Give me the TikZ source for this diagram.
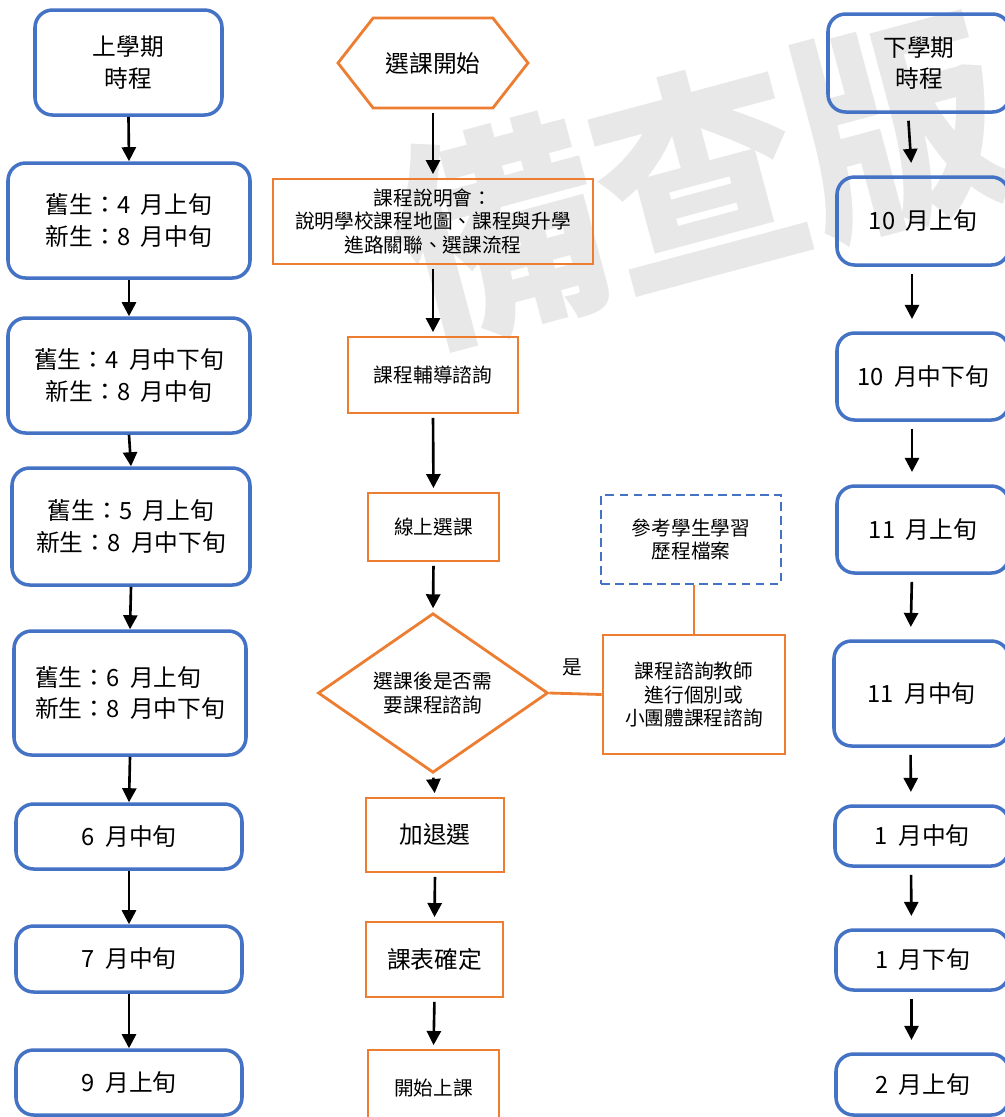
\documentclass[tikz,border=0pt]{standalone}
\usepackage{fontspec}
\setmainfont{Noto Sans CJK TC}[WordSpace=2]
\usetikzlibrary{%
  arrows.meta,%
  shapes.geometric,% diamond
  shapes.symbols% signal (hexagon)
}
\definecolor{tblue}{HTML}{4472C4}
\definecolor{torange}{HTML}{ED7D31}
\newcommand{\fbig}{\fontsize{13.5}{18}\selectfont}
\newcommand{\fsmall}{\fontsize{11.2}{13.2}\selectfont}

\begin{document}
\begin{tikzpicture}
[x=0.02cm, y=-0.02cm, line width=1.5pt, >={Triangle[length=8pt,width=8pt]},
size/.style 2 args={minimum width=#1*0.02cm, minimum height=#2*0.02cm},
term/.style={rectangle, rounded corners=10pt, draw=tblue, line width=2pt, align=center, inner sep=0pt, font=\fbig},
act/.style={rectangle, draw=torange, line width=1.6pt, align=center, inner sep=0pt, font=\fsmall},
note/.style={rectangle, draw=tblue, line width=1.6pt, dash pattern=on 5pt off 3pt, align=center, inner sep=0pt, font=\fsmall},
arr/.style={->, line width=1.5pt}]

\clip (0,0) rectangle (1005,1117);

% watermark
\node[rotate=15, yscale=1.08, text=black!9, font=\fontsize{118}{118}\selectfont\bfseries] (wm) at (700,178) {備查版};

% first term
\node[term, size={187}{105}] (l1) at (128.5,62.5) {上學期\\時程};
\node[term, size={242}{115}] (l2) at (129,220.5) {舊生：4 月上旬\\新生：8 月中旬};
\node[term, size={242}{115}] (l3) at (129,375.5) {舊生：4 月中下旬\\新生：8 月中旬};
\node[term, size={238}{117}] (l4) at (131,526.5) {舊生：5 月上旬\\新生：8 月中下旬};
\node[term, size={232}{124}, align=left] (l5) at (130,693) {舊生：6 月上旬\\新生：8 月中下旬};
\node[term, size={226}{65}] (l6) at (129,836.5) {6 月中旬};
\node[term, size={226}{66}] (l7) at (129,959) {7 月中旬};
\node[term, size={226}{65}] (l8) at (129,1082.5) {9 月上旬};

\foreach \a/\b in {l1/l2,l2/l3,l3/l4,l4/l5,l5/l6,l6/l7,l7/l8}
  \draw[arr] (\a.south) -- (\b.north);

% course selection
\node[signal, signal to=west and east, signal pointer angle=104, draw=torange, line width=1.6pt,
  inner sep=0pt, size={190}{90}, font=\fbig] (m1) at (433,63) {選課開始};
\node[act, size={320}{85}] (m2) at (433,221.5) {課程說明會：\\說明學校課程地圖、課程與升學\\進路關聯、選課流程};
\node[act, size={170}{76}] (m3) at (433,375) {課程輔導諮詢};
\node[act, size={131}{68}] (m4) at (433.5,527) {線上選課};
\node[diamond, draw=torange, line width=1.6pt, inner sep=0pt, align=center, size={230}{140}, font=\fsmall] (m5) at (433,693) {選課後是否需\\要課程諮詢};
\node[act, size={138}{74}, font=\fbig] (m6) at (435,835) {加退選};
\node[act, size={137}{75}, font=\fbig] (m7) at (434.5,959.5) {課表確定};
\node[act, size={131}{76}] (m8) at (433.5,1088) {開始上課};

\foreach \a/\b in {m1/m2,m2/m3,m3/m4,m4/m5,m5/m6,m6/m7,m7/m8}
  \draw[arr, shorten <=2pt, shorten >=2pt] (\a.south) -- (\b.north);

\node[note, size={180}{89}] (s1) at (691,539.5) {參考學生學習\\歷程檔案};
\node[act, size={182}{119}] (s2) at (694,694.5) {課程諮詢教師\\進行個別或\\小團體課程諮詢};
\draw[torange, line width=1.6pt] (s2.north) -- (s2.north |- s1.south);
\draw[torange, line width=1.6pt] (m5.east) -- (s2.west);
\node[font=\fsmall] (yes) at (572,667) {是};

% second term
\node[term, size={182}{98}] (r1) at (919,63) {下學期\\時程};
\node[term, size={172}{88}] (r2) at (923,221) {10 月上旬};
\node[term, size={172}{87}] (r3) at (923,376.5) {10 月中下旬};
\node[term, size={172}{87}] (r4) at (923,529.5) {11 月上旬};
\node[term, size={175}{105}] (r5) at (921.5,693.5) {11 月中旬};
\node[term, size={174}{60}] (r6) at (922,836) {1 月中旬};
\node[term, size={173}{60}] (r7) at (922.5,960) {1 月下旬};
\node[term, size={173}{61}] (r8) at (922.5,1084.5) {2 月上旬};

\foreach \a/\b in {r1/r2,r2/r3,r3/r4,r4/r5,r5/r6,r6/r7,r7/r8}
  \draw[arr, shorten <=4pt, shorten >=7pt] ([xshift=-0.22cm]\a.south) -- ([xshift=-0.22cm]\b.north);

\end{tikzpicture}
\end{document}
